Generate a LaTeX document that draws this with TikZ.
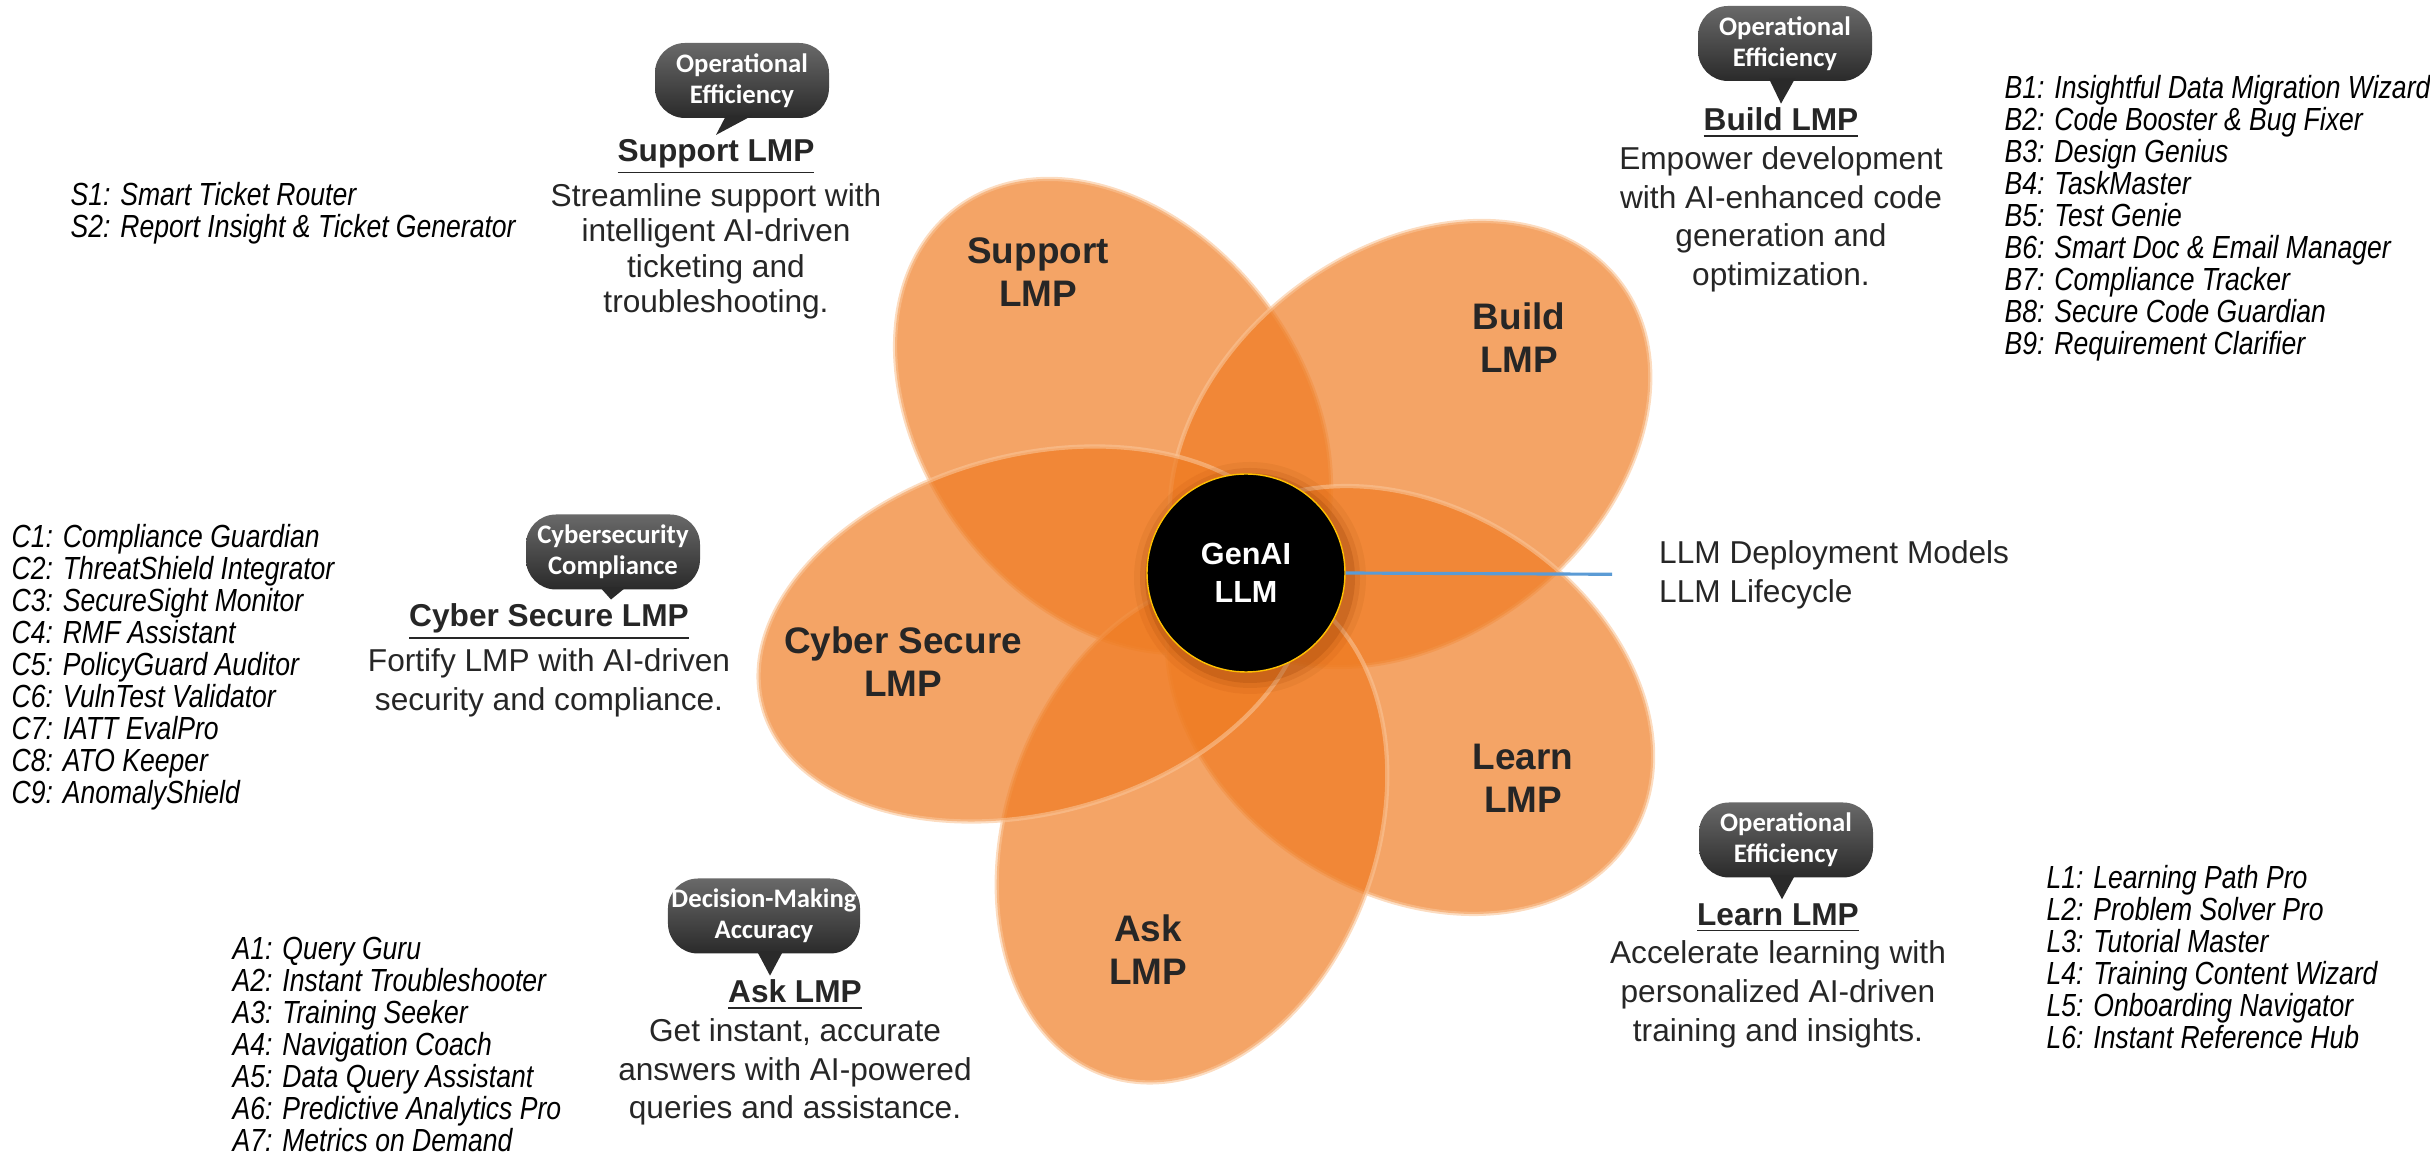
\documentclass[tikz,border=0pt]{standalone}
\usepackage{fontspec}
\setmainfont{Liberation Sans}
\newfontfamily\listfont[FakeStretch=0.83]{Liberation Sans}
\newfontfamily\bubblefont{Carlito}
\usetikzlibrary{shapes.geometric, positioning}

\definecolor{petalfill}{RGB}{239,123,34}
\definecolor{petaledge}{RGB}{250,196,150}
\definecolor{inkgray}{RGB}{38,38,38}
\definecolor{bubbletop}{RGB}{105,105,105}
\definecolor{bubblebot}{RGB}{42,42,42}
\definecolor{ringgold}{RGB}{255,192,0}
\definecolor{linkblue}{RGB}{91,155,213}
\definecolor{shadowbrown}{RGB}{140,55,0}

\begin{document}
\begin{tikzpicture}[
    petal/.style={ellipse, inner sep=0pt, fill=petalfill, fill opacity=0.69, draw=petaledge, draw opacity=0.6, line width=1.2pt},
    petallabel/.style={font=\fontsize{10.5}{12.2}\selectfont\bfseries, text=inkgray, align=center},
    hub/.style={circle, fill=black, draw=ringgold, line width=0.4pt, minimum size=1.98cm, inner sep=0pt, text=white, font=\fontsize{8.7}{11}\selectfont\bfseries, align=center},
    head/.style={font=\fontsize{9}{11}\selectfont\bfseries, text=inkgray, inner sep=1pt},
    desc/.style={font=\fontsize{9}{11}\selectfont, text=inkgray, align=center, inner sep=1pt},
    bubble/.style={rectangle, rounded corners=0.3cm, top color=bubbletop, bottom color=bubblebot, text=white, font=\bubblefont\bfseries\fontsize{7.6}{8.8}\selectfont, align=center, minimum width=1.74cm, minimum height=0.75cm, inner sep=1pt},
    pointer/.style={fill=bubblebot},
    applist/.style={font=\listfont\itshape\fontsize{9.1}{9.1}\selectfont, text=black, align=left, anchor=west, inner sep=0pt}
]
\useasboundingbox (0,0) rectangle (24.3,-11.53);

% Petals
\node[petal, minimum width=5.2cm, minimum height=3.8cm, rotate=127] (supportpetal) at (11.13,-4.16) {};
\node[petal, minimum width=5.3cm, minimum height=3.86cm, rotate=38] (buildpetal) at (14.10,-4.44) {};
\node[petal, minimum width=5.2cm, minimum height=3.86cm, rotate=-32] (learnpetal) at (14.10,-7.00) {};
\node[petal, minimum width=5.2cm, minimum height=3.7cm, rotate=-110] (askpetal) at (11.92,-8.30) {};
\node[petal, minimum width=5.6cm, minimum height=3.58cm, rotate=15] (cyberpetal) at (10.33,-6.34) {};

% Petal labels
\node[petallabel] (supportlbl) at (10.38,-2.725) {Support\\LMP};
\node[petallabel] (buildlbl) at (15.19,-3.38) {Build\\LMP};
\node[petallabel] (learnlbl) at (15.23,-7.78) {Learn\\LMP};
\node[petallabel] (asklbl) at (11.48,-9.495) {Ask\\LMP};
\node[petallabel] (cyberlbl) at (9.03,-6.615) {Cyber Secure\\LMP};

% Hub
\coordinate (hubc) at (12.46,-5.73);
\foreach \r/\o in {1.16/0.08, 1.10/0.12, 1.05/0.2}
    \fill[shadowbrown, opacity=\o] ([xshift=0.04cm, yshift=-0.05cm]hubc) circle (\r);
\node[hub] (hub) at (hubc) {GenAI\\LLM};

\node[desc, align=left, anchor=west] (llmtext) at (16.55,-5.745) {LLM Deployment Models\\LLM Lifecycle};
\draw[linkblue, line width=0.9pt, shorten >=0.43cm] (hub.east) -- (llmtext.west);

% Support
\node[head] (suphead) at (7.16,-1.57) {\underline{Support LMP}};
\node[desc, font=\fontsize{9}{10.1}\selectfont, below=0pt of suphead] (supdesc) {Streamline support with\\intelligent AI-driven\\ticketing and\\troubleshooting.};
\node[bubble] (supbub) at (7.42,-0.805) {Operational\\Efficiency};
\fill[pointer] ([shift={(-0.16,0.03)}]supbub.south) -- ([shift={(0.10,0.03)}]supbub.south) -- (suphead.north);
\node[applist] (suplist) at (0.70,-2.13) {S1: Smart Ticket Router\\S2: Report Insight \& Ticket Generator};

% Build
\node[head] (bldhead) at (17.81,-1.23) {\underline{Build LMP}};
\node[desc, below=0pt of bldhead] (blddesc) {Empower development\\with AI-enhanced code\\generation and\\optimization.};
\node[bubble] (bldbub) at (17.85,-0.435) {Operational\\Efficiency};
\fill[pointer] ([shift={(-0.16,0.03)}]bldbub.south) -- ([shift={(0.10,0.03)}]bldbub.south) -- (bldhead.north);
\node[applist] (bldlist) at (20.04,-2.185) {B1: Insightful Data Migration Wizard\\B2: Code Booster \& Bug Fixer\\B3: Design Genius\\B4: TaskMaster\\B5: Test Genie\\B6: Smart Doc \& Email Manager\\B7: Compliance Tracker\\B8: Secure Code Guardian\\B9: Requirement Clarifier};

% Cyber Secure
\node[head] (cybhead) at (5.49,-6.22) {\underline{Cyber Secure LMP}};
\node[desc, below=0pt of cybhead] (cybdesc) {Fortify LMP with AI-driven\\security and compliance.};
\node[bubble] (cybbub) at (6.13,-5.52) {Cybersecurity\\Compliance};
\fill[pointer] ([shift={(-0.13,0.03)}]cybbub.south) -- ([shift={(0.13,0.03)}]cybbub.south) -- ([xshift=0.62cm]cybhead.north);
\node[applist] (cyblist) at (0.11,-6.67) {C1: Compliance Guardian\\C2: ThreatShield Integrator\\C3: SecureSight Monitor\\C4: RMF Assistant\\C5: PolicyGuard Auditor\\C6: VulnTest Validator\\C7: IATT EvalPro\\C8: ATO Keeper\\C9: AnomalyShield};

% Ask
\node[head] (askhead) at (7.95,-9.95) {\underline{Ask LMP}};
\node[desc, below=0pt of askhead] (askdesc) {Get instant, accurate\\answers with AI-powered\\queries and assistance.};
\node[bubble] (askbub) at (7.64,-9.16) {Decision-Making\\Accuracy};
\fill[pointer] ([shift={(-0.07,0.03)}]askbub.south) -- ([shift={(0.19,0.03)}]askbub.south) -- ([xshift=-0.25cm]askhead.north);
\node[applist] (asklist) at (2.32,-10.445) {A1: Query Guru\\A2: Instant Troubleshooter\\A3: Training Seeker\\A4: Navigation Coach\\A5: Data Query Assistant\\A6: Predictive Analytics Pro\\A7: Metrics on Demand};

% Learn
\node[head] (lrnhead) at (17.78,-9.18) {\underline{Learn LMP}};
\node[desc, below=0pt of lrnhead] (lrndesc) {Accelerate learning with\\personalized AI-driven\\training and insights.};
\node[bubble] (lrnbub) at (17.86,-8.40) {Operational\\Efficiency};
\fill[pointer] ([shift={(-0.17,0.03)}]lrnbub.south) -- ([shift={(0.09,0.03)}]lrnbub.south) -- ([xshift=0.04cm]lrnhead.north);
\node[applist] (lrnlist) at (20.46,-9.57) {L1: Learning Path Pro\\L2: Problem Solver Pro\\L3: Tutorial Master\\L4: Training Content Wizard\\L5: Onboarding Navigator\\L6: Instant Reference Hub};

\end{tikzpicture}
\end{document}
